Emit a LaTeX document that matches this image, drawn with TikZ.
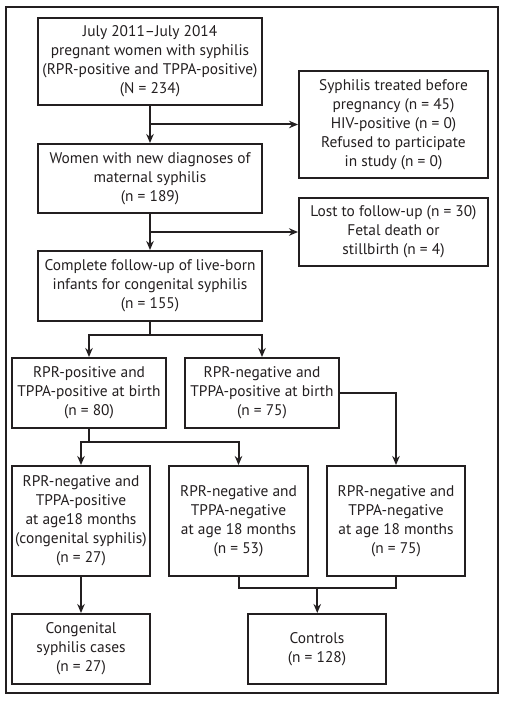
\documentclass[tikz,border=0pt]{standalone}
\usepackage{fontspec}
\setmainfont{PT Sans}
\usetikzlibrary{calc,arrows.meta}
\definecolor{ink}{HTML}{231F20}

\begin{document}
\begin{tikzpicture}[x=1pt, y=-1pt, >={Stealth[length=9pt,width=7.5pt]}, line width=2pt,
    box/.style={draw=ink, text=ink, align=center, inner sep=0pt,
      font=\fontsize{15.4}{19}\selectfont},
    link/.style={draw=ink, line width=2pt}]
    \useasboundingbox (0,0) rectangle (506,703);
    \draw[ink] (6,7) rectangle (498,693);
    % main column
    \node[box, minimum width=224pt, minimum height=87pt] (start) at (150,61.5)
      {July 2011--July 2014\\pregnant women with syphilis\\(RPR-positive and TPPA-positive)\\(N = 234)};
    \node[box, minimum width=189pt, minimum height=107pt] (excl) at (393.5,124.5)
      {Syphilis treated before\\pregnancy (n = 45)\\HIV-positive (n = 0)\\Refused to participate\\in study (n = 0)};
    \node[box, minimum width=224pt, minimum height=69pt] (newdx) at (150,178.5)
      {Women with new diagnoses of\\maternal syphilis\\(n = 189)};
    \node[box, minimum width=189pt, minimum height=68pt] (lost) at (393.5,232)
      {Lost to follow-up (n = 30)\\Fetal death or\\stillbirth (n = 4)};
    \node[box, minimum width=224pt, minimum height=70pt] (infants) at (150,286)
      {Complete follow-up of live-born\\infants for congenital syphilis\\(n = 155)};
    % status at birth
    \node[box, minimum width=154pt, minimum height=70pt] (birthpos) at (89,393)
      {RPR-positive and\\TPPA-positive at birth\\(n = 80)};
    \node[box, minimum width=154pt, minimum height=70pt] (birthneg) at (262,393)
      {RPR-negative and\\TPPA-positive at birth\\(n = 75)};
    % status at 18 months
    \node[box, minimum width=138pt, minimum height=110pt] (cs) at (81,521)
      {RPR-negative and\\TPPA-positive\\at age18 months\\(congenital syphilis)\\(n = 27)};
    \node[box, minimum width=139pt, minimum height=110pt] (negA) at (238.5,521)
      {RPR-negative and\\TPPA-negative\\at age 18 months\\(n = 53)};
    \node[box, minimum width=138pt, minimum height=110pt] (negB) at (396,521)
      {RPR-negative and\\TPPA-negative\\at age 18 months\\(n = 75)};
    % outcome
    \node[box, minimum width=138pt, minimum height=70pt] (cases) at (81,649)
      {Congenital\\syphilis cases\\(n = 27)};
    \node[box, minimum width=138pt, minimum height=70pt] (controls) at (317,649)
      {Controls\\(n = 128)};

    \draw[link, ->] (start) -- (newdx);
    \draw[link, ->] (start.south |- excl.west) -- (excl.west);
    \draw[link, ->] (newdx) -- (infants);
    \draw[link, ->] (newdx.south |- lost.west) -- (lost.west);
    \draw[link] (infants.south) -- ++(0,13) coordinate (split1);
    \draw[link, ->] (split1) -| (birthpos.north);
    \draw[link, ->] (split1) -| (birthneg.north);
    \draw[link] (birthpos.south) -- ++(0,13) coordinate (split2);
    \draw[link, ->] (split2) -| (cs.north);
    \draw[link, ->] (split2) -| (negA.north);
    \draw[link, ->] (birthneg.east) -| (negB.north);
    \draw[link, ->] (cs) -- (cases);
    \draw[link] (negA.south) -- ++(0,11) -| (negB.south);
    \coordinate (join) at ($(negA.south)!0.5!(negB.south)+(0,11)$);
    \draw[link, ->] (join) -- (join |- controls.north);
\end{tikzpicture}
\end{document}
